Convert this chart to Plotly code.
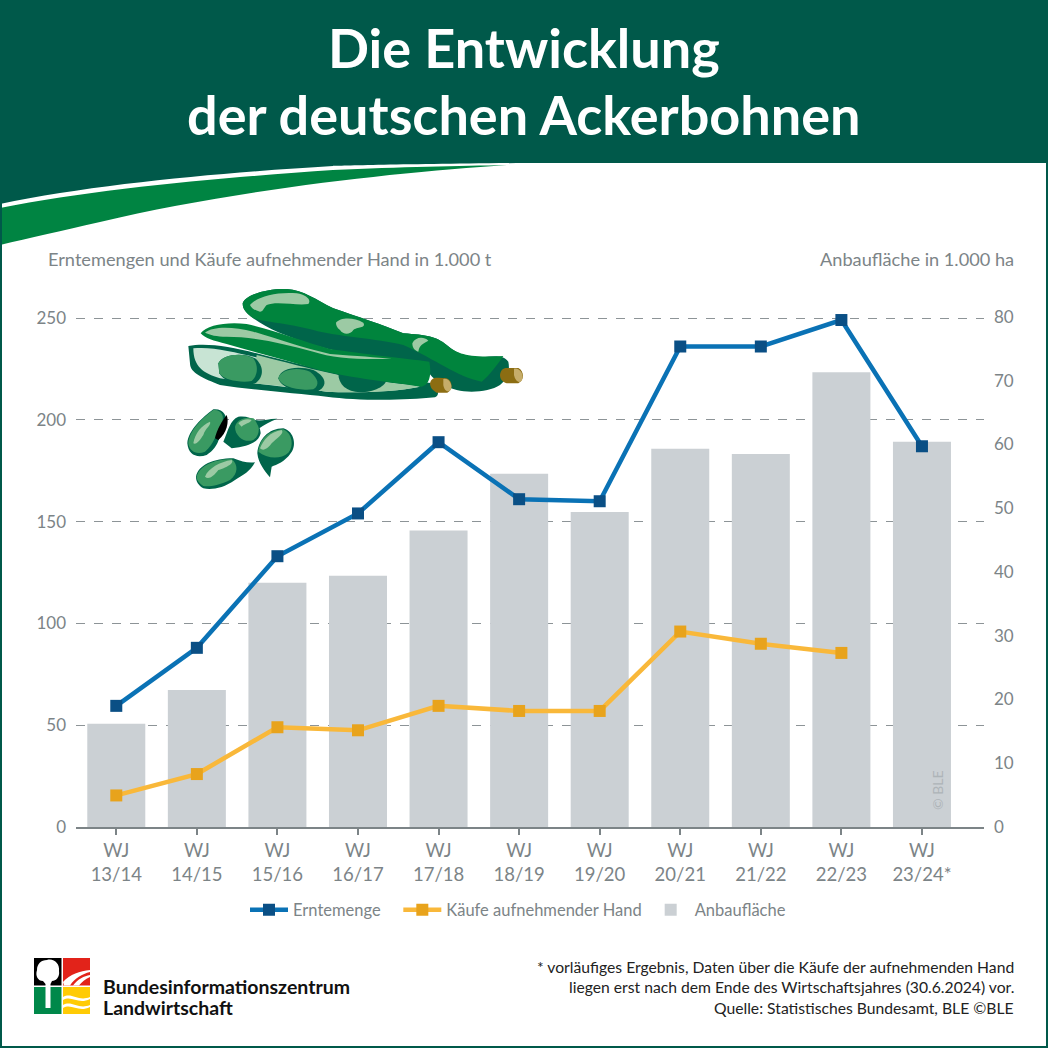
import re
import plotly.graph_objects as go

SIZE = 1048

# Data
categories = ["13/14", "14/15", "15/16", "16/17", "17/18", "18/19", "19/20", "20/21", "21/22", "22/23", "23/24*"]
ernte = [59.5, 88, 133, 154, 189, 161, 160, 236, 236, 249, 187]
kaeufe = [15.5, 26, 49, 47.5, 59.5, 57, 57, 96, 90, 85.5, None]
flaeche = [16.2, 21.5, 38.3, 39.4, 46.5, 55.4, 49.4, 59.3, 58.5, 71.3, 60.4]
left_ticks = [0, 50, 100, 150, 200, 250]
right_ticks = [0, 10, 20, 30, 40, 50, 60, 70, 80]

FONT = "Lato"
GREY = "#7c8487"
DARK = "#00594a"
GREEN = "#008442"


def to_paper(d, ox=0, oy=0, k=1.0):
    """Turn an absolute M/L/C/Z path in page pixels into paper coordinates."""
    out = []
    is_x = True
    for tok in re.findall(r"[A-Za-z]|-?[\d.]+", d):
        if tok.isalpha():
            out.append(tok)
            continue
        v = float(tok) * k
        if is_x:
            out.append(f"{(v + ox) / SIZE:.5f}")
        else:
            out.append(f"{1 - (v + oy) / SIZE:.5f}")
        is_x = not is_x
    return " ".join(out)


shapes = []


def blob(d, color, layer="above", **kw):
    shapes.append(dict(type="path", path=to_paper(d, **kw), xref="paper", yref="paper",
                       fillcolor=color, line=dict(width=0), layer=layer))


def txt(x, y, text, size=18.2, color=GREY, anchor="left", weight=400, angle=0):
    return dict(x=x / SIZE, y=1 - y / SIZE, xref="paper", yref="paper", text=text, showarrow=False,
                xanchor=anchor, yanchor="middle", textangle=angle,
                font=dict(family=FONT, size=size, color=color, weight=weight))


# header and swoosh
blob("M0,0 L1048,0 L1048,163 L525,163 C400,164 333,166 333,166 C233,172 100,183 0,204 Z", DARK, layer="below")
blob("M0,208 C100,188 233,177 333,170 C400,167 460,166 507,165 C400,172 233,190 100,222 C60,231 30,238 0,245 Z", GREEN, layer="below")

# page border
blob("M0,0 L2,0 L2,1048 L0,1048 Z", DARK)
blob("M1046,0 L1048,0 L1048,1048 L1046,1048 Z", DARK)
blob("M0,1046 L1048,1046 L1048,1048 L0,1048 Z", DARK)

# bean pods, drawn in coordinates of a 3x crop
pod = dict(ox=170, oy=280, k=1 / 3)
POD = "#00843d"
POD_DARK = "#00654a"
LIGHT = "#9ccaa4"
PALE = "#c8e4d4"
PEA = "#3a9a62"
# top pod
blob("M218,70 C225,45 290,25 350,27 C400,30 440,60 490,85 C560,110 640,135 700,160 C770,165 800,170 830,195 C860,220 890,235 940,232 C970,228 1000,225 1015,245 C1020,270 1015,295 990,315 C960,335 900,340 860,330 C820,320 790,300 770,270 C620,240 500,215 430,195 C350,170 290,145 250,115 C230,100 218,90 218,70 Z", POD_DARK, **pod)
blob("M218,70 C225,45 290,25 350,27 C400,30 440,60 490,85 C560,110 640,135 700,160 C770,165 800,170 830,195 C860,220 890,235 1000,228 C985,250 960,285 935,305 C860,290 800,240 700,195 C620,175 500,170 430,150 C350,130 280,125 250,115 C230,100 218,90 218,70 Z", POD, **pod)
blob("M240,75 C260,50 320,35 380,40 C410,45 425,60 415,72 C380,78 320,62 290,75 C280,85 280,95 270,95 C255,92 245,85 240,75 Z", LIGHT, **pod)
blob("M498,128 C510,112 550,110 580,128 C590,145 560,140 550,150 C540,165 520,165 510,150 C500,142 498,135 498,128 Z", LIGHT, **pod)
blob("M727,190 C735,172 760,168 775,182 C760,190 748,195 745,215 C735,212 727,205 727,190 Z", LIGHT, **pod)
blob("M990,285 C992,270 1000,262 1015,264 L1045,264 C1062,272 1065,300 1045,310 L1010,310 C998,306 990,298 990,285 Z", "#8c6d12", **pod)
blob("M1032,266 C1050,262 1064,285 1055,302 C1045,312 1035,300 1032,285 Z", "#c6ad6a", **pod)
# open pod
blob("M55,198 C110,188 180,200 260,220 C340,240 450,270 540,285 C620,295 720,300 790,310 C805,330 810,345 795,352 C700,362 560,362 470,350 C380,340 250,330 150,315 C100,295 60,280 60,250 Z", POD_DARK, **pod)
blob("M70,205 C130,198 210,220 290,240 C380,262 470,280 560,295 C630,305 700,312 750,320 C680,335 560,340 470,335 C400,325 270,315 150,295 C100,280 70,260 70,205 Z", PALE, **pod)
blob("M260,225 C340,245 470,280 560,295 C630,305 700,312 750,320 C680,335 560,340 470,335 C400,325 320,315 250,310 Z", LIGHT, **pod)
blob("M145,250 C155,225 215,215 255,235 C280,255 285,290 255,310 C215,322 160,305 148,280 Z", POD_DARK, **pod)
blob("M145,250 C155,225 215,215 250,235 C265,255 265,285 245,303 C215,310 160,300 148,280 Z", PEA, **pod)
blob("M325,295 C330,265 380,255 430,270 C470,290 475,320 440,335 C400,340 335,330 325,295 Z", POD_DARK, **pod)
blob("M325,295 C330,270 380,258 420,275 C445,295 450,315 430,328 C400,333 335,325 325,295 Z", PEA, **pod)
blob("M505,280 L650,295 C650,320 610,337 570,337 C530,335 505,315 505,280 Z", POD_DARK, **pod)
# middle pod, closed over the open one
blob("M92,160 C110,135 170,125 230,132 C310,150 400,185 480,207 C580,222 700,235 778,245 C785,280 780,315 755,320 C650,305 520,292 430,265 C340,238 260,218 170,192 C130,182 105,175 92,160 Z", POD, **pod)
blob("M105,158 C130,138 190,140 250,155 C320,175 400,205 480,222 C560,228 620,232 665,236 C580,240 490,235 430,215 C340,190 250,170 170,170 C140,170 120,165 105,158 Z", LIGHT, **pod)
blob("M780,310 C782,298 790,292 805,293 L830,295 C848,302 850,330 832,338 L800,338 C788,332 780,322 780,310 Z", "#8c6d12", **pod)
blob("M820,297 C836,292 850,315 842,330 C832,340 822,330 820,315 Z", "#c6ad6a", **pod)
# loose beans
blob("M52,490 C55,450 100,410 130,388 C160,385 175,410 165,430 C145,470 150,500 110,525 C80,535 55,525 52,490 Z", POD_DARK, **pod)
blob("M55,490 C58,450 100,412 130,390 C155,388 165,410 155,430 C135,465 135,490 105,515 C80,525 58,515 55,490 Z", PEA, **pod)
blob("M135,475 C140,450 155,425 170,405 C178,425 170,460 145,480 Z", "#000000", **pod)
blob("M160,485 C175,450 180,420 205,410 C240,405 270,425 272,460 C265,490 230,500 185,505 Z", POD_DARK, **pod)
blob("M195,440 C200,420 225,408 250,415 C272,430 272,465 250,480 C225,490 195,470 195,440 Z", PEA, **pod)
blob("M255,420 C275,425 295,415 322,416 C300,425 280,435 268,445 Z", POD_DARK, **pod)
blob("M262,520 C265,480 295,445 340,445 C375,455 380,500 362,520 C345,545 320,555 305,560 L300,592 C285,575 265,550 262,520 Z", POD_DARK, **pod)
blob("M265,515 C268,480 295,450 340,448 C368,460 372,500 355,518 C330,540 290,535 265,515 Z", PEA, **pod)
blob("M78,590 C85,555 130,535 190,535 C215,545 235,550 255,547 C240,575 220,585 195,600 C160,625 125,630 100,625 C85,615 78,605 78,590 Z", POD_DARK, **pod)
blob("M80,590 C88,558 130,538 185,537 C205,555 205,580 180,600 C150,615 115,622 100,618 C88,610 80,600 80,590 Z", PEA, **pod)
for d in ["M70,490 C75,460 95,435 120,425 C125,435 105,445 100,465 C90,480 80,495 70,490 Z",
          "M270,505 C280,480 300,455 335,450 C345,460 320,475 305,490 C295,505 280,515 270,505 Z",
          "M105,590 C115,565 150,545 185,540 C195,550 165,565 145,570 C130,590 115,600 105,590 Z",
          "M205,430 C215,418 235,415 245,420 C240,430 225,430 215,440 Z"]:
    blob(d, LIGHT, **pod)

# logo
blob("M34,958 L61.5,958 L61.5,985.5 L34,985.5 Z", "#000000")
blob("M63,958 L90,958 L90,985.5 L63,985.5 Z", "#e2231a")
blob("M34,987 L61.5,987 L61.5,1014 L34,1014 Z", "#00884a")
blob("M63,987 L90,987 L90,1014 L63,1014 Z", "#ffcb05")
blob("M47,960 C54,958 60,964 59,971 C60,977 56,981 52,981 L50.5,984 L50.5,1008 L45.5,1008 L45.5,984 L43,981 C38,981 35,976 37,970 C37,964 41,960 47,960 Z", "#ffffff")
blob("M63,982 C70,974 80,971 90,970 L90,972 C82,974 75,978 70,985.5 L64,985.5 Z", "#ffffff")
blob("M73,985.5 C78,979 84,976 90,975 L90,977 C85,979 82,982 79,985.5 Z", "#ffffff")
blob("M63,997 C72,992 78,1002 90,997 L90,999 C78,1005 72,995 63,1000 Z", "#ffffff")
blob("M63,1005 C72,1000 78,1010 90,1005 L90,1007 C78,1013 72,1003 63,1008 Z", "#ffffff")

annotations = [
    txt(524, 47, "Die Entwicklung", size=54, color="#ffffff", anchor="center", weight=700),
    txt(524, 115, "der deutschen Ackerbohnen", size=54, color="#ffffff", anchor="center", weight=700),
    txt(46, 259, "Erntemengen und Käufe aufnehmender Hand in 1.000 t"),
    txt(1016, 259, "Anbaufläche in 1.000 ha", anchor="right"),
    txt(937, 790, "© BLE", size=14, color="#aeb4b8", anchor="center", angle=-90),
    txt(101, 986, "Bundesinformationszentrum", size=19.5, color="#111111", weight=700),
    txt(101, 1007, "Landwirtschaft", size=19.5, color="#111111", weight=700),
    txt(1016, 967, "* vorläufiges Ergebnis, Daten über die Käufe der aufnehmenden Hand", size=15.7, color="#222222", anchor="right"),
    txt(1016, 987, "liegen erst nach dem Ende des Wirtschaftsjahres (30.6.2024) vor.", size=15.7, color="#222222", anchor="right"),
    txt(1016, 1008, "Quelle: Statistisches Bundesamt, BLE ©BLE", size=15.7, color="#222222", anchor="right"),
]

labels = [f"WJ<br>{c}" for c in categories]
x = list(range(len(categories)))

fig = go.Figure()
# the left axis only shows up with a trace of its own, so it gets the harvest line unseen
fig.add_trace(go.Scatter(x=x, y=ernte, yaxis="y", mode="lines", opacity=0, showlegend=False, hoverinfo="skip"))
fig.add_trace(go.Scatter(x=x, y=ernte, name="Erntemenge\u00a0\u00a0\u00a0", yaxis="y3", mode="lines+markers",
                         line=dict(color="#0a72b5", width=4.5),
                         marker=dict(symbol="square", size=12, color="#0a4f85")))
fig.add_trace(go.Scatter(x=x, y=kaeufe, name="Käufe aufnehmender Hand", yaxis="y3", mode="lines+markers",
                         line=dict(color="#f9b83a", width=4.5),
                         marker=dict(symbol="square", size=12, color="#e8a31c")))
fig.add_trace(go.Bar(x=x, y=flaeche, name="Anbaufläche", yaxis="y2", width=0.72,
                     marker=dict(color="#cbd0d4", line=dict(width=0))))

y_bottom = 1 - 827 / SIZE
y_top = 1 - 290 / SIZE
fig.update_layout(
    width=SIZE, height=SIZE,
    margin=dict(l=0, r=0, t=0, b=0, autoexpand=False),
    paper_bgcolor="#ffffff", plot_bgcolor="rgba(0,0,0,0)",
    font=dict(family=FONT, size=18.5, color=GREY),
    shapes=shapes, annotations=annotations,
    xaxis=dict(domain=[76 / SIZE, 984 / SIZE], range=[-0.5, 10.77], tickmode="array", tickvals=x,
               ticktext=labels, ticks="outside", ticklen=6, tickwidth=2, tickcolor=GREY,
               showline=True, linecolor=GREY, linewidth=2, showgrid=False, zeroline=False, tickangle=0,
               anchor="y"),
    yaxis=dict(domain=[y_bottom, y_top], range=[0, 263.75], tickvals=left_ticks, side="left",
               showgrid=True, gridcolor="#8d9497", griddash="dash", gridwidth=1, zeroline=False,
               ticks="", ticklabelstandoff=9, showline=False, tickfont=dict(size=17)),
    yaxis2=dict(domain=[y_bottom, y_top], range=[0, 84.2], tickvals=right_ticks, side="right",
                overlaying="y", showgrid=False, zeroline=False, ticks="", ticklabelstandoff=9,
                anchor="x", tickfont=dict(size=17)),
    yaxis3=dict(domain=[y_bottom, y_top], range=[0, 263.75], overlaying="y", visible=False, anchor="x"),
    legend=dict(orientation="h", x=245 / SIZE, xanchor="left", y=1 - 910 / SIZE, yanchor="middle",
                itemwidth=38, font=dict(size=16.5, color=GREY), bgcolor="rgba(0,0,0,0)"),
)

fig.write_html("out.html", config={"displayModeBar": False}, post_script="document.body.style.margin='0';")
